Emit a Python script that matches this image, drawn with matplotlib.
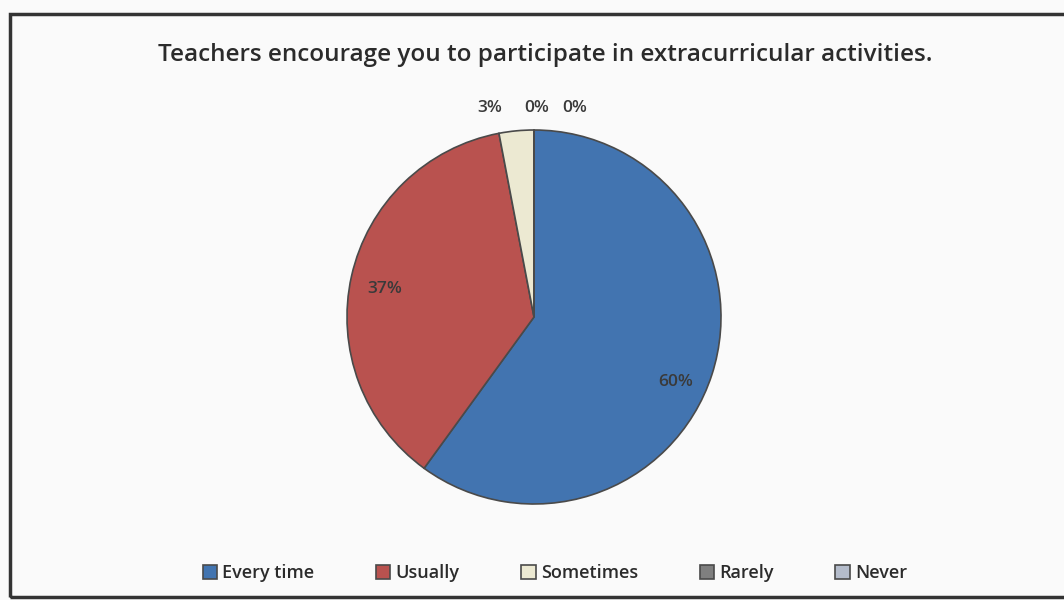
import matplotlib.pyplot as plt
from matplotlib.patches import Rectangle

labels = ['Every time', 'Usually', 'Sometimes', 'Rarely', 'Never']
values = [60, 37, 3, 0, 0]
colors = ['#4274b0', '#b9524f', '#ece9d2', '#7f7f7f', '#b4bccb']

plt.rcParams['font.family'] = ['Open Sans', 'DejaVu Sans']

fig = plt.figure(figsize=(10.64, 6), dpi=100)
fig.patch.set_facecolor('#fafafa')

# frame of the chart area
fig.patches.append(Rectangle((10 / 1064, 3 / 600), 1.2, 583 / 600, transform=fig.transFigure,
                             fill=False, edgecolor='#333333', linewidth=2.5))

fig.text(545 / 1064, 1 - 55 / 600, 'Teachers encourage you to participate in extracurricular activities.',
         ha='center', va='center', fontsize=17.5, fontweight='semibold', color='#2b2b2b')

# pie centre (534, 317) px, radius 187 px
cx, cy, half = 534, 317, 200
ax = fig.add_axes([(cx - half) / 1064, (600 - cy - half) / 600, 2 * half / 1064, 2 * half / 600])
wedges, texts = ax.pie(values, colors=colors, startangle=90, counterclock=False,
                       wedgeprops=dict(edgecolor='#4a4a4a', linewidth=1.2))
lim = half / 187
ax.set_xlim(-lim, lim)
ax.set_ylim(-lim, lim)
ax.set_aspect('equal')
ax.axis('off')

# data labels
label_pos = [(0.76, -0.35), (-0.8, 0.15), (-0.235, 1.12), (0.016, 1.12), (0.22, 1.12)]
for v, (x, y) in zip(values, label_pos):
    ax.text(x, y, f'{v}%', ha='center', va='center', fontsize=12.5, fontweight='semibold',
            color='#3a3a3a')

fig.legend(wedges, labels, loc='center', bbox_to_anchor=(555 / 1064, 1 - 573 / 600), ncol=5,
           frameon=False, handlelength=0.8, handleheight=0.8, handletextpad=0.3,
           columnspacing=3.4, prop=dict(size=13, weight='semibold'), labelcolor='#2b2b2b')

fig.savefig('out.png', dpi=100, facecolor=fig.get_facecolor())
